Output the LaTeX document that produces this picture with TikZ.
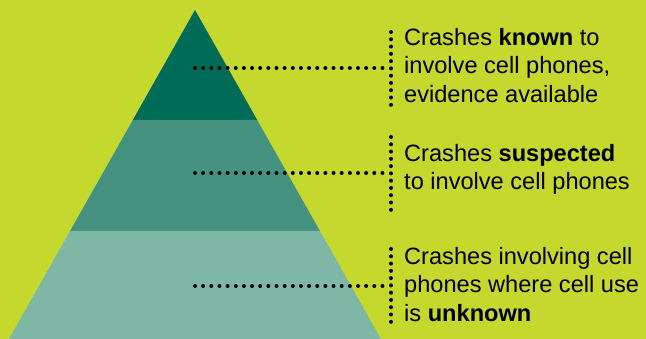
\documentclass[tikz,border=0pt]{standalone}
\usepackage{fontspec}
\setmainfont{Liberation Sans}
\usetikzlibrary{positioning,calc}

\definecolor{limebg}{RGB}{197,216,46}
\definecolor{knowngreen}{RGB}{0,107,86}
\definecolor{suspectgreen}{RGB}{69,145,128}
\definecolor{unknowngreen}{RGB}{127,183,167}

\tikzset{
  dotline/.style={line width=4pt, line cap=round, dash pattern=on 0pt off 8.15pt},
  dotbar/.style={line width=4pt, line cap=round, dash pattern=on 0pt off 7.28pt},
  blocktext/.style={anchor=north west, inner sep=0pt, align=left,
    font=\fontsize{23.6}{28.5}\selectfont},
}

\begin{document}
\begin{tikzpicture}[x=1pt,y=1pt]
  \useasboundingbox (0,0) rectangle (646,339);
  \fill[limebg] (0,0) rectangle (646,339);

  % Define the pyramid corners
  \coordinate (apex) at (195,329);
  \coordinate (baseL) at (9,0);
  \coordinate (baseR) at (381,0);

  %Cut the pyramid into three bands
  \coordinate (topL) at ($(apex)!0.3343!(baseL)$);
  \coordinate (topR) at ($(apex)!0.3343!(baseR)$);
  \coordinate (midL) at ($(apex)!0.6717!(baseL)$);
  \coordinate (midR) at ($(apex)!0.6717!(baseR)$);

  \fill[knowngreen] (apex) -- (topR) -- (topL) -- cycle;
  \fill[suspectgreen] (topL) -- (topR) -- (midR) -- (midL) -- cycle;
  \fill[unknowngreen] (midL) -- (midR) -- (baseR) -- (baseL) -- cycle;

  % Known
  \coordinate (known) at (195,271);
  \coordinate[right=188pt of known] (knownend);
  \coordinate[right=196pt of known] (knownmid);
  \coordinate[above=36pt of knownmid] (knowntop);
  \coordinate[below=37pt of knownmid] (knownbot);
  \node[blocktext] (knowntext) at (404,311)
    {Crashes \textbf{known} to\\involve cell phones,\\evidence available};

  % Suspected
  \coordinate (suspect) at (195,166);
  \coordinate[right=188pt of suspect] (suspectend);
  \coordinate[right=196pt of suspect] (suspectmid);
  \coordinate[above=36pt of suspectmid] (suspecttop);
  \coordinate[below=37pt of suspectmid] (suspectbot);
  \node[blocktext] (suspecttext) at (404,195)
    {Crashes \textbf{suspected}\\to involve cell phones};

  % Unknown
  \coordinate (unknown) at (195,53);
  \coordinate[right=188pt of unknown] (unknownend);
  \coordinate[right=196pt of unknown] (unknownmid);
  \coordinate[above=37pt of unknownmid] (unknowntop);
  \coordinate[below=36pt of unknownmid] (unknownbot);
  \node[blocktext] (unknowntext) at (404,92)
    {Crashes involving cell\\phones where cell use\\is \textbf{unknown}};

  %Draw the dotted leaders
  \draw[dotline] (known) -- (knownend);
  \draw[dotbar] (knowntop) -- (knownbot);
  \draw[dotline] (suspect) -- (suspectend);
  \draw[dotbar] (suspecttop) -- (suspectbot);
  \draw[dotline] (unknown) -- (unknownend);
  \draw[dotbar] (unknowntop) -- (unknownbot);
\end{tikzpicture}
\end{document}
